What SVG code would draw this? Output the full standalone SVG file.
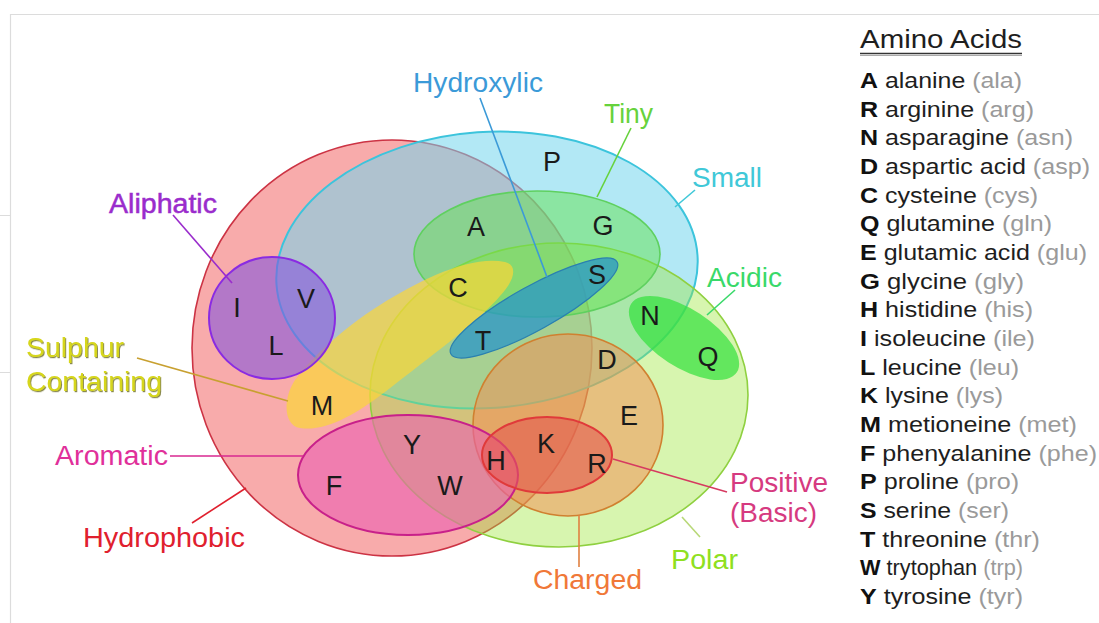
<svg xmlns="http://www.w3.org/2000/svg" width="1099" height="623" viewBox="0 0 1099 623">
<defs>
<style>
.lbl{font-family:"Liberation Sans",Arial,sans-serif;font-size:27px;}
.aa{font-family:"Liberation Sans",Arial,sans-serif;font-size:27px;fill:#1a1a1a;text-anchor:middle;}
.leg{font-family:"Liberation Sans",Arial,sans-serif;font-size:22px;fill:#1e1e1e;}
.leg .k{font-weight:bold;fill:#111;}
.leg .ab{fill:#9a9a9a;}
.conn line{stroke-width:1.6;fill:none;}
.frame{stroke:#dcdcdc;stroke-width:1.2;fill:none;}
</style>
<filter id="shadow" x="-10%" y="-10%" width="120%" height="130%">
<feDropShadow dx="1" dy="1.2" stdDeviation="0.6" flood-color="#6b6b20" flood-opacity="0.8"/>
</filter>
</defs>
<rect width="1099" height="623" fill="#ffffff"/>
<g id="frame">
<path class="frame" d="M10.5 623 V14.5 H1099"/>
<path class="frame" d="M0 215.5 H10 M0 372.5 H10"/>
</g>

<g id="hydrophobic">
<ellipse cx="392" cy="348" rx="200" ry="208" fill="#f8abab" stroke="#cc3344" stroke-width="1.6"/>
</g>
<g id="small">
<ellipse cx="487" cy="270" rx="211" ry="138" transform="rotate(-4 487 270)" fill="#73d5ed" fill-opacity="0.55" stroke="#3cc4dc" stroke-width="2"/>
</g>
<g id="polar">
<ellipse cx="559" cy="395" rx="189" ry="152" fill="#9be637" fill-opacity="0.4" stroke="#8fd040" stroke-width="1.6"/>
</g>
<g id="tiny">
<ellipse cx="537" cy="254" rx="123" ry="63" fill="#64e150" fill-opacity="0.5" stroke="#5fd05f" stroke-width="1.6"/>
</g>
<g id="sulphur">
<path d="M505 262 C470 255 420 280 380 305 C340 330 310 360 295 380 C283 398 283 425 300 428 C325 432 355 415 385 392 C430 357 480 320 500 296 C515 280 518 265 505 262 Z" fill="#fbd538" fill-opacity="0.7"/>
</g>
<g id="aliphatic">
<ellipse cx="272" cy="318" rx="63" ry="61" fill="#8657dc" fill-opacity="0.6" stroke="#8a2be2" stroke-width="2"/>
</g>
<g id="charged">
<ellipse cx="568" cy="425" rx="95" ry="91" fill="#f58c50" fill-opacity="0.5" stroke="#d08030" stroke-width="1.6"/>
</g>
<g id="aromatic">
<ellipse cx="408" cy="475" rx="110" ry="60" fill="#eb5fb2" fill-opacity="0.6" stroke="#c8208a" stroke-width="2"/>
</g>
<g id="positive">
<ellipse cx="547" cy="455" rx="65" ry="38" fill="#e55a50" fill-opacity="0.6" stroke="#e03a3a" stroke-width="2"/>
</g>
<g id="hydroxylic">
<ellipse cx="534" cy="308" rx="95" ry="22" transform="rotate(-29 534 308)" fill="#2896c8" fill-opacity="0.75" stroke="#2a80b0" stroke-width="1.2"/>
</g>
<g id="acidic">
<ellipse cx="684" cy="338" rx="63" ry="29" transform="rotate(33 684 338)" fill="#32e13c" fill-opacity="0.7"/>
</g>

<g id="connectors" class="conn">
<line x1="480" y1="98" x2="547" y2="277" stroke="#3b9ad8"/>
<line x1="631" y1="128" x2="597" y2="197" stroke="#66d23c"/>
<line x1="695" y1="190" x2="675" y2="207" stroke="#40c8d8"/>
<line x1="735" y1="290" x2="707" y2="315" stroke="#3ad96a"/>
<line x1="173" y1="215" x2="232" y2="283" stroke="#9a2ccc"/>
<line x1="137" y1="358" x2="288" y2="401" stroke="#c8a030"/>
<line x1="170" y1="456" x2="303" y2="456" stroke="#d82890"/>
<line x1="192" y1="523" x2="246" y2="488" stroke="#e0202e"/>
<line x1="613" y1="459" x2="727" y2="492" stroke="#d63a60"/>
<line x1="682" y1="517" x2="700" y2="537" stroke="#b8d878"/>
<line x1="579" y1="515" x2="579" y2="567" stroke="#e08040"/>
</g>

<g id="set-labels">
<text id="t-hydroxylic" class="lbl" x="413" y="92" textLength="130" lengthAdjust="spacingAndGlyphs" fill="#3b9ad8">Hydroxylic</text>
<text id="t-tiny" class="lbl" x="604" y="123" textLength="49" lengthAdjust="spacingAndGlyphs" fill="#66d23c">Tiny</text>
<text id="t-small" class="lbl" x="692" y="187" textLength="70" lengthAdjust="spacingAndGlyphs" fill="#40c8d8">Small</text>
<text id="t-acidic" class="lbl" x="707" y="287" textLength="75" lengthAdjust="spacingAndGlyphs" fill="#3ad96a">Acidic</text>
<text id="t-aliphatic" class="lbl" x="109" y="213" textLength="108" lengthAdjust="spacingAndGlyphs" fill="#9a2ccc" stroke="#9a2ccc" stroke-width="0.5">Aliphatic</text>
<text id="t-sulphur1" class="lbl" x="26" y="357" textLength="98" lengthAdjust="spacingAndGlyphs" fill="#d6d61a" filter="url(#shadow)">Sulphur</text>
<text id="t-sulphur2" class="lbl" x="26" y="391" textLength="136" lengthAdjust="spacingAndGlyphs" fill="#d6d61a" filter="url(#shadow)">Containing</text>
<text id="t-aromatic" class="lbl" x="55" y="465" textLength="113" lengthAdjust="spacingAndGlyphs" fill="#e0309a">Aromatic</text>
<text id="t-hydrophobic" class="lbl" x="83" y="547" textLength="162" lengthAdjust="spacingAndGlyphs" fill="#e0202e">Hydrophobic</text>
<text id="t-positive1" class="lbl" x="730" y="492" textLength="98" lengthAdjust="spacingAndGlyphs" fill="#d63a80">Positive</text>
<text id="t-positive2" class="lbl" x="730" y="522" textLength="87" lengthAdjust="spacingAndGlyphs" fill="#d63a80">(Basic)</text>
<text id="t-polar" class="lbl" x="671" y="569" textLength="67" lengthAdjust="spacingAndGlyphs" fill="#8fe020">Polar</text>
<text id="t-charged" class="lbl" x="533" y="589" textLength="109" lengthAdjust="spacingAndGlyphs" fill="#f07838">Charged</text>
</g>

<g id="residues">
<text id="aa-P" class="aa" x="552" y="171">P</text>
<text id="aa-A" class="aa" x="476" y="236">A</text>
<text id="aa-G" class="aa" x="603" y="235">G</text>
<text id="aa-C" class="aa" x="458" y="297">C</text>
<text id="aa-S" class="aa" x="597" y="284">S</text>
<text id="aa-I" class="aa" x="237" y="317">I</text>
<text id="aa-V" class="aa" x="306" y="308">V</text>
<text id="aa-L" class="aa" x="276" y="355">L</text>
<text id="aa-T" class="aa" x="483" y="350">T</text>
<text id="aa-N" class="aa" x="650" y="325">N</text>
<text id="aa-D" class="aa" x="607" y="369">D</text>
<text id="aa-Q" class="aa" x="708" y="366">Q</text>
<text id="aa-M" class="aa" x="322" y="415">M</text>
<text id="aa-E" class="aa" x="629" y="425">E</text>
<text id="aa-Y" class="aa" x="412" y="454">Y</text>
<text id="aa-K" class="aa" x="546" y="453">K</text>
<text id="aa-H" class="aa" x="496" y="470">H</text>
<text id="aa-R" class="aa" x="597" y="473">R</text>
<text id="aa-F" class="aa" x="334" y="495">F</text>
<text id="aa-W" class="aa" x="450" y="495">W</text>
</g>

<g id="legend">
<text class="leg" x="860" y="48" textLength="162" lengthAdjust="spacingAndGlyphs" style="font-size:26px">Amino Acids</text>
<line x1="860" y1="53.5" x2="1022" y2="53.5" stroke="#333" stroke-width="1.6"/>
<line x1="860" y1="55.5" x2="1022" y2="55.5" stroke="#aaa" stroke-width="1"/>
<text class="leg" x="860" y="88" textLength="162" lengthAdjust="spacingAndGlyphs"><tspan class="k">A</tspan> alanine <tspan class="ab">(ala)</tspan></text>
<text class="leg" x="860" y="116.7" textLength="174" lengthAdjust="spacingAndGlyphs"><tspan class="k">R</tspan> arginine <tspan class="ab">(arg)</tspan></text>
<text class="leg" x="860" y="145.3" textLength="213" lengthAdjust="spacingAndGlyphs"><tspan class="k">N</tspan> asparagine <tspan class="ab">(asn)</tspan></text>
<text class="leg" x="860" y="174" textLength="230" lengthAdjust="spacingAndGlyphs"><tspan class="k">D</tspan> aspartic acid <tspan class="ab">(asp)</tspan></text>
<text class="leg" x="860" y="202.7" textLength="178" lengthAdjust="spacingAndGlyphs"><tspan class="k">C</tspan> cysteine <tspan class="ab">(cys)</tspan></text>
<text class="leg" x="860" y="231.3" textLength="192" lengthAdjust="spacingAndGlyphs"><tspan class="k">Q</tspan> glutamine <tspan class="ab">(gln)</tspan></text>
<text class="leg" x="860" y="260" textLength="227" lengthAdjust="spacingAndGlyphs"><tspan class="k">E</tspan> glutamic acid <tspan class="ab">(glu)</tspan></text>
<text class="leg" x="860" y="288.7" textLength="164" lengthAdjust="spacingAndGlyphs"><tspan class="k">G</tspan> glycine <tspan class="ab">(gly)</tspan></text>
<text class="leg" x="860" y="317.3" textLength="173" lengthAdjust="spacingAndGlyphs"><tspan class="k">H</tspan> histidine <tspan class="ab">(his)</tspan></text>
<text class="leg" x="860" y="346" textLength="175" lengthAdjust="spacingAndGlyphs"><tspan class="k">I</tspan> isoleucine <tspan class="ab">(ile)</tspan></text>
<text class="leg" x="860" y="374.7" textLength="159" lengthAdjust="spacingAndGlyphs"><tspan class="k">L</tspan> leucine <tspan class="ab">(leu)</tspan></text>
<text class="leg" x="860" y="403.3" textLength="143" lengthAdjust="spacingAndGlyphs"><tspan class="k">K</tspan> lysine <tspan class="ab">(lys)</tspan></text>
<text class="leg" x="860" y="432" textLength="217" lengthAdjust="spacingAndGlyphs"><tspan class="k">M</tspan> metioneine <tspan class="ab">(met)</tspan></text>
<text class="leg" x="860" y="460.7" textLength="237" lengthAdjust="spacingAndGlyphs"><tspan class="k">F</tspan> phenyalanine <tspan class="ab">(phe)</tspan></text>
<text class="leg" x="860" y="489.3" textLength="159" lengthAdjust="spacingAndGlyphs"><tspan class="k">P</tspan> proline <tspan class="ab">(pro)</tspan></text>
<text class="leg" x="860" y="518" textLength="149" lengthAdjust="spacingAndGlyphs"><tspan class="k">S</tspan> serine <tspan class="ab">(ser)</tspan></text>
<text class="leg" x="860" y="546.7" textLength="180" lengthAdjust="spacingAndGlyphs"><tspan class="k">T</tspan> threonine <tspan class="ab">(thr)</tspan></text>
<text class="leg" x="860" y="575.3" textLength="163" lengthAdjust="spacingAndGlyphs"><tspan class="k">W</tspan> trytophan <tspan class="ab">(trp)</tspan></text>
<text class="leg" x="860" y="604" textLength="163" lengthAdjust="spacingAndGlyphs"><tspan class="k">Y</tspan> tyrosine <tspan class="ab">(tyr)</tspan></text>
</g>
</svg>
